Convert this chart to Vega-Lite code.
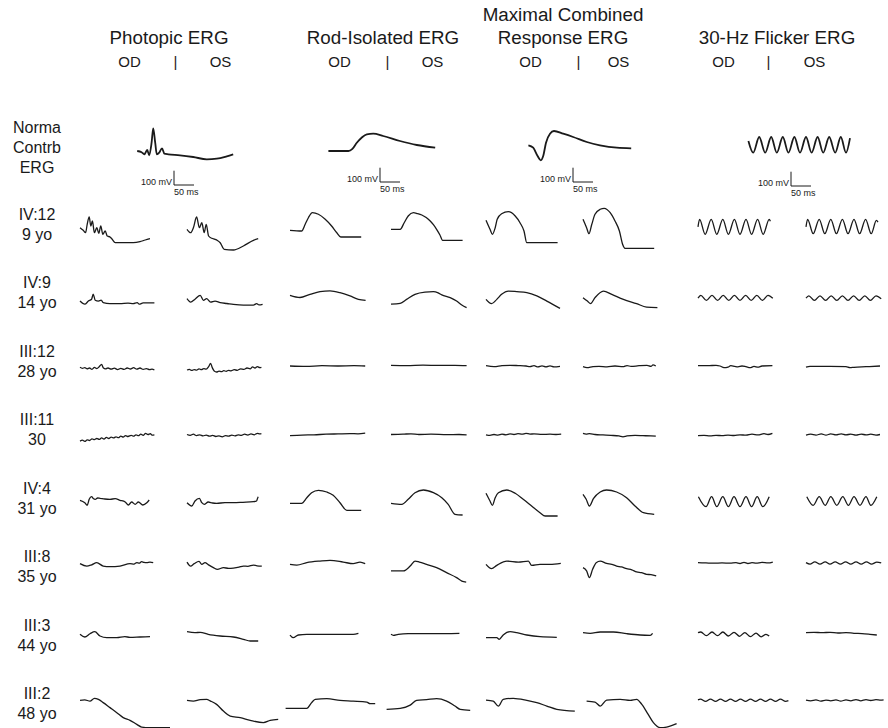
{
"$schema":"https://vega.github.io/schema/vega-lite/v6.json",
"padding":{"left":0,"top":6,"right":0,"bottom":0},
"config":{"view":{"stroke":null},"font":"Liberation Sans",
"title":{"font":"Liberation Sans","fontSize":18.8,"fontWeight":"normal","lineHeight":23,"offset":6,"color":"#1a1a1a","anchor":"middle","frame":"group"},
"axis":{"ticks":false,"tickSize":0,"domain":false,"grid":false,"labelFontSize":15,"labelFont":"Liberation Sans","labelColor":"#1a1a1a","labelPadding":0,"labelBaseline":"alphabetic","labelOverlap":false,"labelBound":false,"labelFlush":false,"labelAngle":0,"title":null,"offset":59},
"text":{"font":"Liberation Sans","color":"#1a1a1a"},"line":{"color":"#1a1a1a"}},
"datasets":{
"labels":[{"s":"IV:12","label":"IV:12\n9 yo"},{"s":"IV:9","label":"IV:9\n14 yo"},{"s":"III:12","label":"III:12\n28 yo"},{"s":"III:11","label":"III:11\n30"},{"s":"IV:4","label":"IV:4\n31 yo"},{"s":"III:8","label":"III:8\n35 yo"},{"s":"III:3","label":"III:3\n44 yo"},{"s":"III:2","label":"III:2\n48 yo"}],
"bar":[{"g":"P","k":0,"t":235,"v":-68},{"g":"P","k":1,"t":235,"v":-168},{"g":"P","k":2,"t":285,"v":-168},
{"g":"R","k":0,"t":225,"v":-47},{"g":"R","k":1,"t":225,"v":-147},{"g":"R","k":2,"t":275,"v":-147},
{"g":"M","k":0,"t":217.5,"v":-47},{"g":"M","k":1,"t":217.5,"v":-147},{"g":"M","k":2,"t":267.5,"v":-147},
{"g":"F","k":0,"t":232.5,"v":-75},{"g":"F","k":1,"t":232.5,"v":-175},{"g":"F","k":2,"t":282.5,"v":-175}],
"normal":[
{"g":"P","t":143,"v":70},{"g":"P","t":154,"v":61},{"g":"P","t":161,"v":47},{"g":"P","t":168,"v":77},{"g":"P","t":173,"v":40},{"g":"P","t":179,"v":128},{"g":"P","t":183,"v":229},{"g":"P","t":188,"v":128},{"g":"P","t":192,"v":47},{"g":"P","t":198,"v":58},{"g":"P","t":205,"v":89},{"g":"P","t":211,"v":51},{"g":"P","t":221,"v":47},{"g":"P","t":250,"v":40},{"g":"P","t":283,"v":28},{"g":"P","t":317,"v":12},{"g":"P","t":342,"v":16},{"g":"P","t":367,"v":33},{"g":"P","t":383,"v":47},
{"g":"R","t":96,"v":70},{"g":"R","t":146,"v":70},{"g":"R","t":156,"v":85},{"g":"R","t":167,"v":128},{"g":"R","t":179,"v":163},{"g":"R","t":192,"v":187},{"g":"R","t":208,"v":191},{"g":"R","t":233,"v":175},{"g":"R","t":275,"v":140},{"g":"R","t":317,"v":112},{"g":"R","t":363,"v":93},
{"g":"M","t":106,"v":110},{"g":"M","t":118,"v":93},{"g":"M","t":129,"v":35},{"g":"M","t":137,"v":5},{"g":"M","t":143,"v":35},{"g":"M","t":150,"v":128},{"g":"M","t":160,"v":191},{"g":"M","t":170,"v":210},{"g":"M","t":193,"v":191},{"g":"M","t":218,"v":168},{"g":"M","t":252,"v":133},{"g":"M","t":285,"v":110},{"g":"M","t":327,"v":93},{"g":"M","t":363,"v":89},
{"g":"F","t":126,"v":140},{"g":"F","t":138,"v":58},{"g":"F","t":153,"v":168},{"g":"F","t":168,"v":58},{"g":"F","t":183,"v":168},{"g":"F","t":197,"v":58},{"g":"F","t":212,"v":168},{"g":"F","t":226,"v":58},{"g":"F","t":241,"v":168},{"g":"F","t":255,"v":58},{"g":"F","t":270,"v":168},{"g":"F","t":284,"v":58},{"g":"F","t":299,"v":168},{"g":"F","t":313,"v":58},{"g":"F","t":328,"v":168},{"g":"F","t":343,"v":58},{"g":"F","t":357,"v":168},{"g":"F","t":370,"v":58},{"g":"F","t":380,"v":160}],
"P":[
{"s":"IV:12","e":"OD","t":0,"v":9},{"s":"IV:12","e":"OD","t":8,"v":-9},{"s":"IV:12","e":"OD","t":14,"v":-26},{"s":"IV:12","e":"OD","t":18,"v":33},{"s":"IV:12","e":"OD","t":23,"v":84},{"s":"IV:12","e":"OD","t":27,"v":21},{"s":"IV:12","e":"OD","t":31,"v":56},{"s":"IV:12","e":"OD","t":36,"v":-26},{"s":"IV:12","e":"OD","t":42,"v":9},{"s":"IV:12","e":"OD","t":47,"v":-30},{"s":"IV:12","e":"OD","t":52,"v":21},{"s":"IV:12","e":"OD","t":57,"v":-37},{"s":"IV:12","e":"OD","t":63,"v":-14},{"s":"IV:12","e":"OD","t":68,"v":-49},{"s":"IV:12","e":"OD","t":75,"v":-56},{"s":"IV:12","e":"OD","t":80,"v":-70},{"s":"IV:12","e":"OD","t":88,"v":-96},{"s":"IV:12","e":"OD","t":100,"v":-96},{"s":"IV:12","e":"OD","t":133,"v":-96},{"s":"IV:12","e":"OD","t":150,"v":-89},{"s":"IV:12","e":"OD","t":163,"v":-77},{"s":"IV:12","e":"OD","t":175,"v":-68},
{"s":"IV:12","e":"OS","t":0,"v":-2},{"s":"IV:12","e":"OS","t":9,"v":-26},{"s":"IV:12","e":"OS","t":16,"v":9},{"s":"IV:12","e":"OS","t":24,"v":84},{"s":"IV:12","e":"OS","t":31,"v":9},{"s":"IV:12","e":"OS","t":37,"v":44},{"s":"IV:12","e":"OS","t":43,"v":-26},{"s":"IV:12","e":"OS","t":48,"v":33},{"s":"IV:12","e":"OS","t":54,"v":-49},{"s":"IV:12","e":"OS","t":62,"v":-65},{"s":"IV:12","e":"OS","t":70,"v":-72},{"s":"IV:12","e":"OS","t":76,"v":-80},{"s":"IV:12","e":"OS","t":83,"v":-96},{"s":"IV:12","e":"OS","t":93,"v":-142},{"s":"IV:12","e":"OS","t":116,"v":-147},{"s":"IV:12","e":"OS","t":141,"v":-119},{"s":"IV:12","e":"OS","t":166,"v":-79},{"s":"IV:12","e":"OS","t":178,"v":-68},
{"s":"IV:9","e":"OD","t":0,"v":-25},{"s":"IV:9","e":"OD","t":12,"v":-47},{"s":"IV:9","e":"OD","t":21,"v":-25},{"s":"IV:9","e":"OD","t":29,"v":-12},{"s":"IV:9","e":"OD","t":33,"v":23},{"s":"IV:9","e":"OD","t":38,"v":-19},{"s":"IV:9","e":"OD","t":46,"v":-25},{"s":"IV:9","e":"OD","t":53,"v":-19},{"s":"IV:9","e":"OD","t":58,"v":-36},{"s":"IV:9","e":"OD","t":75,"v":-43},{"s":"IV:9","e":"OD","t":100,"v":-43},{"s":"IV:9","e":"OD","t":120,"v":-40},{"s":"IV:9","e":"OD","t":133,"v":-43},{"s":"IV:9","e":"OD","t":143,"v":-36},{"s":"IV:9","e":"OD","t":148,"v":-47},{"s":"IV:9","e":"OD","t":158,"v":-38},{"s":"IV:9","e":"OD","t":186,"v":-38},
{"s":"IV:9","e":"OS","t":0,"v":-8},{"s":"IV:9","e":"OS","t":9,"v":-32},{"s":"IV:9","e":"OS","t":20,"v":-12},{"s":"IV:9","e":"OS","t":33,"v":15},{"s":"IV:9","e":"OS","t":41,"v":-20},{"s":"IV:9","e":"OS","t":49,"v":-8},{"s":"IV:9","e":"OS","t":59,"v":-32},{"s":"IV:9","e":"OS","t":70,"v":-25},{"s":"IV:9","e":"OS","t":83,"v":-36},{"s":"IV:9","e":"OS","t":100,"v":-42},{"s":"IV:9","e":"OS","t":116,"v":-48},{"s":"IV:9","e":"OS","t":141,"v":-53},{"s":"IV:9","e":"OS","t":166,"v":-53},{"s":"IV:9","e":"OS","t":174,"v":-43},{"s":"IV:9","e":"OS","t":180,"v":-52},{"s":"IV:9","e":"OS","t":189,"v":-48},
{"s":"III:12","e":"OD","t":0,"v":-9},{"s":"III:12","e":"OD","t":6,"v":-16},{"s":"III:12","e":"OD","t":12,"v":-12},{"s":"III:12","e":"OD","t":18,"v":-20},{"s":"III:12","e":"OD","t":24,"v":-14},{"s":"III:12","e":"OD","t":30,"v":-23},{"s":"III:12","e":"OD","t":36,"v":-10},{"s":"III:12","e":"OD","t":42,"v":-18},{"s":"III:12","e":"OD","t":48,"v":-5},{"s":"III:12","e":"OD","t":54,"v":12},{"s":"III:12","e":"OD","t":58,"v":-12},{"s":"III:12","e":"OD","t":64,"v":-20},{"s":"III:12","e":"OD","t":70,"v":-14},{"s":"III:12","e":"OD","t":78,"v":-22},{"s":"III:12","e":"OD","t":86,"v":-15},{"s":"III:12","e":"OD","t":94,"v":-25},{"s":"III:12","e":"OD","t":102,"v":-17},{"s":"III:12","e":"OD","t":110,"v":-24},{"s":"III:12","e":"OD","t":118,"v":-14},{"s":"III:12","e":"OD","t":126,"v":-21},{"s":"III:12","e":"OD","t":134,"v":-12},{"s":"III:12","e":"OD","t":142,"v":-22},{"s":"III:12","e":"OD","t":150,"v":-14},{"s":"III:12","e":"OD","t":158,"v":-24},{"s":"III:12","e":"OD","t":166,"v":-18},{"s":"III:12","e":"OD","t":174,"v":-26},{"s":"III:12","e":"OD","t":180,"v":-22},{"s":"III:12","e":"OD","t":186,"v":-28},
{"s":"III:12","e":"OS","t":0,"v":-28},{"s":"III:12","e":"OS","t":6,"v":-24},{"s":"III:12","e":"OS","t":12,"v":-31},{"s":"III:12","e":"OS","t":18,"v":-25},{"s":"III:12","e":"OS","t":24,"v":-29},{"s":"III:12","e":"OS","t":30,"v":-20},{"s":"III:12","e":"OS","t":36,"v":-26},{"s":"III:12","e":"OS","t":42,"v":-18},{"s":"III:12","e":"OS","t":48,"v":-22},{"s":"III:12","e":"OS","t":54,"v":-5},{"s":"III:12","e":"OS","t":59,"v":19},{"s":"III:12","e":"OS","t":63,"v":-10},{"s":"III:12","e":"OS","t":68,"v":-35},{"s":"III:12","e":"OS","t":74,"v":-42},{"s":"III:12","e":"OS","t":80,"v":-36},{"s":"III:12","e":"OS","t":86,"v":-40},{"s":"III:12","e":"OS","t":92,"v":-33},{"s":"III:12","e":"OS","t":98,"v":-37},{"s":"III:12","e":"OS","t":104,"v":-30},{"s":"III:12","e":"OS","t":110,"v":-34},{"s":"III:12","e":"OS","t":118,"v":-26},{"s":"III:12","e":"OS","t":126,"v":-30},{"s":"III:12","e":"OS","t":134,"v":-20},{"s":"III:12","e":"OS","t":142,"v":-24},{"s":"III:12","e":"OS","t":150,"v":-14},{"s":"III:12","e":"OS","t":158,"v":-20},{"s":"III:12","e":"OS","t":164,"v":-6},{"s":"III:12","e":"OS","t":170,"v":-14},{"s":"III:12","e":"OS","t":176,"v":-4},{"s":"III:12","e":"OS","t":182,"v":-12},{"s":"III:12","e":"OS","t":186,"v":-9},
{"s":"III:11","e":"OD","t":0,"v":-46},{"s":"III:11","e":"OD","t":6,"v":-40},{"s":"III:11","e":"OD","t":12,"v":-48},{"s":"III:11","e":"OD","t":18,"v":-38},{"s":"III:11","e":"OD","t":24,"v":-42},{"s":"III:11","e":"OD","t":30,"v":-30},{"s":"III:11","e":"OD","t":36,"v":-36},{"s":"III:11","e":"OD","t":42,"v":-28},{"s":"III:11","e":"OD","t":48,"v":-34},{"s":"III:11","e":"OD","t":54,"v":-24},{"s":"III:11","e":"OD","t":60,"v":-32},{"s":"III:11","e":"OD","t":66,"v":-20},{"s":"III:11","e":"OD","t":72,"v":-28},{"s":"III:11","e":"OD","t":78,"v":-18},{"s":"III:11","e":"OD","t":84,"v":-24},{"s":"III:11","e":"OD","t":90,"v":-16},{"s":"III:11","e":"OD","t":96,"v":-22},{"s":"III:11","e":"OD","t":102,"v":-12},{"s":"III:11","e":"OD","t":108,"v":-18},{"s":"III:11","e":"OD","t":114,"v":-8},{"s":"III:11","e":"OD","t":120,"v":-14},{"s":"III:11","e":"OD","t":128,"v":-6},{"s":"III:11","e":"OD","t":134,"v":-12},{"s":"III:11","e":"OD","t":140,"v":-2},{"s":"III:11","e":"OD","t":146,"v":-8},{"s":"III:11","e":"OD","t":152,"v":2},{"s":"III:11","e":"OD","t":158,"v":-6},{"s":"III:11","e":"OD","t":164,"v":8},{"s":"III:11","e":"OD","t":170,"v":0},{"s":"III:11","e":"OD","t":176,"v":6},{"s":"III:11","e":"OD","t":180,"v":-4},{"s":"III:11","e":"OD","t":186,"v":-2},
{"s":"III:11","e":"OS","t":0,"v":0},{"s":"III:11","e":"OS","t":8,"v":-6},{"s":"III:11","e":"OS","t":16,"v":2},{"s":"III:11","e":"OS","t":24,"v":-8},{"s":"III:11","e":"OS","t":32,"v":-2},{"s":"III:11","e":"OS","t":40,"v":-10},{"s":"III:11","e":"OS","t":48,"v":-4},{"s":"III:11","e":"OS","t":56,"v":-12},{"s":"III:11","e":"OS","t":64,"v":-6},{"s":"III:11","e":"OS","t":72,"v":-14},{"s":"III:11","e":"OS","t":80,"v":-10},{"s":"III:11","e":"OS","t":88,"v":-16},{"s":"III:11","e":"OS","t":96,"v":-8},{"s":"III:11","e":"OS","t":104,"v":-12},{"s":"III:11","e":"OS","t":112,"v":-4},{"s":"III:11","e":"OS","t":120,"v":-10},{"s":"III:11","e":"OS","t":128,"v":-2},{"s":"III:11","e":"OS","t":136,"v":-6},{"s":"III:11","e":"OS","t":144,"v":2},{"s":"III:11","e":"OS","t":152,"v":-4},{"s":"III:11","e":"OS","t":160,"v":4},{"s":"III:11","e":"OS","t":168,"v":-2},{"s":"III:11","e":"OS","t":176,"v":8},{"s":"III:11","e":"OS","t":182,"v":4},{"s":"III:11","e":"OS","t":186,"v":6},
{"s":"IV:4","e":"OD","t":0,"v":19},{"s":"IV:4","e":"OD","t":12,"v":2},{"s":"IV:4","e":"OD","t":18,"v":-16},{"s":"IV:4","e":"OD","t":23,"v":26},{"s":"IV:4","e":"OD","t":29,"v":44},{"s":"IV:4","e":"OD","t":34,"v":30},{"s":"IV:4","e":"OD","t":38,"v":26},{"s":"IV:4","e":"OD","t":44,"v":35},{"s":"IV:4","e":"OD","t":50,"v":33},{"s":"IV:4","e":"OD","t":62,"v":28},{"s":"IV:4","e":"OD","t":75,"v":26},{"s":"IV:4","e":"OD","t":88,"v":30},{"s":"IV:4","e":"OD","t":100,"v":19},{"s":"IV:4","e":"OD","t":113,"v":7},{"s":"IV:4","e":"OD","t":121,"v":-14},{"s":"IV:4","e":"OD","t":129,"v":7},{"s":"IV:4","e":"OD","t":138,"v":-9},{"s":"IV:4","e":"OD","t":146,"v":7},{"s":"IV:4","e":"OD","t":157,"v":-14},{"s":"IV:4","e":"OD","t":167,"v":2},{"s":"IV:4","e":"OD","t":173,"v":21},
{"s":"IV:4","e":"OS","t":0,"v":2},{"s":"IV:4","e":"OS","t":12,"v":-21},{"s":"IV:4","e":"OS","t":20,"v":14},{"s":"IV:4","e":"OS","t":31,"v":33},{"s":"IV:4","e":"OS","t":37,"v":2},{"s":"IV:4","e":"OS","t":43,"v":-9},{"s":"IV:4","e":"OS","t":53,"v":7},{"s":"IV:4","e":"OS","t":64,"v":0},{"s":"IV:4","e":"OS","t":74,"v":-2},{"s":"IV:4","e":"OS","t":95,"v":2},{"s":"IV:4","e":"OS","t":116,"v":2},{"s":"IV:4","e":"OS","t":140,"v":5},{"s":"IV:4","e":"OS","t":166,"v":9},{"s":"IV:4","e":"OS","t":174,"v":14},{"s":"IV:4","e":"OS","t":176,"v":30},{"s":"IV:4","e":"OS","t":178,"v":44},
{"s":"III:8","e":"OD","t":0,"v":55},{"s":"III:8","e":"OD","t":17,"v":38},{"s":"III:8","e":"OD","t":29,"v":47},{"s":"III:8","e":"OD","t":42,"v":62},{"s":"III:8","e":"OD","t":58,"v":38},{"s":"III:8","e":"OD","t":75,"v":34},{"s":"III:8","e":"OD","t":100,"v":38},{"s":"III:8","e":"OD","t":125,"v":55},{"s":"III:8","e":"OD","t":135,"v":52},{"s":"III:8","e":"OD","t":142,"v":62},{"s":"III:8","e":"OD","t":148,"v":58},{"s":"III:8","e":"OD","t":154,"v":69},{"s":"III:8","e":"OD","t":160,"v":64},{"s":"III:8","e":"OD","t":167,"v":62},{"s":"III:8","e":"OD","t":175,"v":66},{"s":"III:8","e":"OD","t":183,"v":62},
{"s":"III:8","e":"OS","t":0,"v":66},{"s":"III:8","e":"OS","t":9,"v":38},{"s":"III:8","e":"OS","t":18,"v":55},{"s":"III:8","e":"OS","t":30,"v":71},{"s":"III:8","e":"OS","t":37,"v":50},{"s":"III:8","e":"OS","t":45,"v":62},{"s":"III:8","e":"OS","t":53,"v":48},{"s":"III:8","e":"OS","t":66,"v":27},{"s":"III:8","e":"OS","t":76,"v":15},{"s":"III:8","e":"OS","t":91,"v":27},{"s":"III:8","e":"OS","t":104,"v":22},{"s":"III:8","e":"OS","t":116,"v":24},{"s":"III:8","e":"OS","t":130,"v":30},{"s":"III:8","e":"OS","t":141,"v":38},{"s":"III:8","e":"OS","t":152,"v":36},{"s":"III:8","e":"OS","t":166,"v":45},{"s":"III:8","e":"OS","t":175,"v":40},{"s":"III:8","e":"OS","t":187,"v":38},
{"s":"III:3","e":"OD","t":0,"v":40},{"s":"III:3","e":"OD","t":12,"v":21},{"s":"III:3","e":"OD","t":25,"v":44},{"s":"III:3","e":"OD","t":37,"v":58},{"s":"III:3","e":"OD","t":50,"v":28},{"s":"III:3","e":"OD","t":67,"v":16},{"s":"III:3","e":"OD","t":92,"v":16},{"s":"III:3","e":"OD","t":112,"v":23},{"s":"III:3","e":"OD","t":125,"v":19},{"s":"III:3","e":"OD","t":150,"v":21},{"s":"III:3","e":"OD","t":175,"v":23},
{"s":"III:3","e":"OS","t":0,"v":58},{"s":"III:3","e":"OS","t":20,"v":51},{"s":"III:3","e":"OS","t":33,"v":54},{"s":"III:3","e":"OS","t":53,"v":40},{"s":"III:3","e":"OS","t":83,"v":28},{"s":"III:3","e":"OS","t":116,"v":21},{"s":"III:3","e":"OS","t":141,"v":5},{"s":"III:3","e":"OS","t":158,"v":-7},{"s":"III:3","e":"OS","t":178,"v":-7},
{"s":"III:2","e":"OD","t":0,"v":57},{"s":"III:2","e":"OD","t":12,"v":60},{"s":"III:2","e":"OD","t":25,"v":52},{"s":"III:2","e":"OD","t":36,"v":71},{"s":"III:2","e":"OD","t":46,"v":64},{"s":"III:2","e":"OD","t":58,"v":41},{"s":"III:2","e":"OD","t":75,"v":6},{"s":"III:2","e":"OD","t":92,"v":-29},{"s":"III:2","e":"OD","t":108,"v":-64},{"s":"III:2","e":"OD","t":125,"v":-83},{"s":"III:2","e":"OD","t":142,"v":-111},{"s":"III:2","e":"OD","t":154,"v":-130},{"s":"III:2","e":"OD","t":175,"v":-134},{"s":"III:2","e":"OD","t":225,"v":-134},
{"s":"III:2","e":"OS","t":0,"v":57},{"s":"III:2","e":"OS","t":16,"v":52},{"s":"III:2","e":"OS","t":33,"v":62},{"s":"III:2","e":"OS","t":49,"v":64},{"s":"III:2","e":"OS","t":59,"v":52},{"s":"III:2","e":"OS","t":74,"v":29},{"s":"III:2","e":"OS","t":91,"v":-18},{"s":"III:2","e":"OS","t":108,"v":-53},{"s":"III:2","e":"OS","t":133,"v":-64},{"s":"III:2","e":"OS","t":158,"v":-83},{"s":"III:2","e":"OS","t":191,"v":-99},{"s":"III:2","e":"OS","t":208,"v":-83},{"s":"III:2","e":"OS","t":228,"v":-76}],
"R":[
{"s":"IV:12","e":"OD","t":0,"v":-9},{"s":"IV:12","e":"OD","t":29,"v":-14},{"s":"IV:12","e":"OD","t":38,"v":33},{"s":"IV:12","e":"OD","t":46,"v":79},{"s":"IV:12","e":"OD","t":56,"v":114},{"s":"IV:12","e":"OD","t":71,"v":103},{"s":"IV:12","e":"OD","t":88,"v":68},{"s":"IV:12","e":"OD","t":104,"v":21},{"s":"IV:12","e":"OD","t":117,"v":-26},{"s":"IV:12","e":"OD","t":127,"v":-56},{"s":"IV:12","e":"OD","t":178,"v":-56},
{"s":"IV:12","e":"OS","t":0,"v":-2},{"s":"IV:12","e":"OS","t":23,"v":-2},{"s":"IV:12","e":"OS","t":33,"v":44},{"s":"IV:12","e":"OS","t":43,"v":91},{"s":"IV:12","e":"OS","t":56,"v":114},{"s":"IV:12","e":"OS","t":66,"v":108},{"s":"IV:12","e":"OS","t":77,"v":98},{"s":"IV:12","e":"OS","t":88,"v":80},{"s":"IV:12","e":"OS","t":98,"v":56},{"s":"IV:12","e":"OS","t":106,"v":30},{"s":"IV:12","e":"OS","t":114,"v":-2},{"s":"IV:12","e":"OS","t":122,"v":-40},{"s":"IV:12","e":"OS","t":129,"v":-79},{"s":"IV:12","e":"OS","t":179,"v":-79},
{"s":"IV:9","e":"OD","t":0,"v":15},{"s":"IV:9","e":"OD","t":25,"v":0},{"s":"IV:9","e":"OD","t":50,"v":22},{"s":"IV:9","e":"OD","t":75,"v":41},{"s":"IV:9","e":"OD","t":100,"v":46},{"s":"IV:9","e":"OD","t":125,"v":34},{"s":"IV:9","e":"OD","t":150,"v":11},{"s":"IV:9","e":"OD","t":171,"v":-13},{"s":"IV:9","e":"OD","t":189,"v":-20},
{"s":"IV:9","e":"OS","t":0,"v":-47},{"s":"IV:9","e":"OS","t":23,"v":-41},{"s":"IV:9","e":"OS","t":39,"v":-13},{"s":"IV:9","e":"OS","t":60,"v":22},{"s":"IV:9","e":"OS","t":85,"v":38},{"s":"IV:9","e":"OS","t":106,"v":41},{"s":"IV:9","e":"OS","t":118,"v":32},{"s":"IV:9","e":"OS","t":127,"v":18},{"s":"IV:9","e":"OS","t":148,"v":-1},{"s":"IV:9","e":"OS","t":164,"v":-25},{"s":"IV:9","e":"OS","t":177,"v":-53},{"s":"IV:9","e":"OS","t":189,"v":-71},
{"s":"III:12","e":"OD","t":0,"v":0},{"s":"III:12","e":"OD","t":40,"v":-3},{"s":"III:12","e":"OD","t":80,"v":2},{"s":"III:12","e":"OD","t":120,"v":0},{"s":"III:12","e":"OD","t":160,"v":2},{"s":"III:12","e":"OD","t":188,"v":0},
{"s":"III:12","e":"OS","t":0,"v":5},{"s":"III:12","e":"OS","t":40,"v":3},{"s":"III:12","e":"OS","t":80,"v":6},{"s":"III:12","e":"OS","t":120,"v":4},{"s":"III:12","e":"OS","t":160,"v":5},{"s":"III:12","e":"OS","t":189,"v":3},
{"s":"III:11","e":"OD","t":0,"v":-8},{"s":"III:11","e":"OD","t":30,"v":-4},{"s":"III:11","e":"OD","t":60,"v":-2},{"s":"III:11","e":"OD","t":90,"v":2},{"s":"III:11","e":"OD","t":120,"v":4},{"s":"III:11","e":"OD","t":150,"v":6},{"s":"III:11","e":"OD","t":170,"v":5},{"s":"III:11","e":"OD","t":188,"v":9},
{"s":"III:11","e":"OS","t":0,"v":0},{"s":"III:11","e":"OS","t":30,"v":2},{"s":"III:11","e":"OS","t":50,"v":5},{"s":"III:11","e":"OS","t":70,"v":0},{"s":"III:11","e":"OS","t":100,"v":2},{"s":"III:11","e":"OS","t":140,"v":-1},{"s":"III:11","e":"OS","t":170,"v":0},{"s":"III:11","e":"OS","t":189,"v":-2},
{"s":"IV:4","e":"OD","t":0,"v":-2},{"s":"IV:4","e":"OD","t":29,"v":-2},{"s":"IV:4","e":"OD","t":42,"v":37},{"s":"IV:4","e":"OD","t":54,"v":72},{"s":"IV:4","e":"OD","t":71,"v":89},{"s":"IV:4","e":"OD","t":92,"v":77},{"s":"IV:4","e":"OD","t":108,"v":54},{"s":"IV:4","e":"OD","t":125,"v":2},{"s":"IV:4","e":"OD","t":142,"v":-51},{"s":"IV:4","e":"OD","t":178,"v":-51},
{"s":"IV:4","e":"OS","t":0,"v":-2},{"s":"IV:4","e":"OS","t":27,"v":-9},{"s":"IV:4","e":"OS","t":43,"v":26},{"s":"IV:4","e":"OS","t":60,"v":72},{"s":"IV:4","e":"OS","t":81,"v":91},{"s":"IV:4","e":"OS","t":106,"v":72},{"s":"IV:4","e":"OS","t":127,"v":37},{"s":"IV:4","e":"OS","t":143,"v":-9},{"s":"IV:4","e":"OS","t":160,"v":-79},{"s":"IV:4","e":"OS","t":179,"v":-84},
{"s":"III:8","e":"OD","t":0,"v":50},{"s":"III:8","e":"OD","t":17,"v":45},{"s":"III:8","e":"OD","t":42,"v":62},{"s":"III:8","e":"OD","t":75,"v":73},{"s":"III:8","e":"OD","t":100,"v":78},{"s":"III:8","e":"OD","t":133,"v":66},{"s":"III:8","e":"OD","t":158,"v":55},{"s":"III:8","e":"OD","t":175,"v":66},{"s":"III:8","e":"OD","t":188,"v":55},
{"s":"III:8","e":"OS","t":0,"v":4},{"s":"III:8","e":"OS","t":31,"v":4},{"s":"III:8","e":"OS","t":48,"v":38},{"s":"III:8","e":"OS","t":60,"v":73},{"s":"III:8","e":"OS","t":71,"v":66},{"s":"III:8","e":"OS","t":89,"v":50},{"s":"III:8","e":"OS","t":114,"v":27},{"s":"III:8","e":"OS","t":139,"v":-8},{"s":"III:8","e":"OS","t":164,"v":-43},{"s":"III:8","e":"OS","t":177,"v":-67},{"s":"III:8","e":"OS","t":188,"v":-74},
{"s":"III:3","e":"OD","t":0,"v":34},{"s":"III:3","e":"OD","t":8,"v":16},{"s":"III:3","e":"OD","t":21,"v":35},{"s":"III:3","e":"OD","t":42,"v":40},{"s":"III:3","e":"OD","t":108,"v":40},{"s":"III:3","e":"OD","t":158,"v":40},{"s":"III:3","e":"OD","t":171,"v":47},
{"s":"III:3","e":"OS","t":0,"v":40},{"s":"III:3","e":"OS","t":6,"v":33},{"s":"III:3","e":"OS","t":18,"v":40},{"s":"III:3","e":"OS","t":43,"v":44},{"s":"III:3","e":"OS","t":106,"v":44},{"s":"III:3","e":"OS","t":171,"v":47},
{"s":"III:2","e":"OD","t":-11,"v":1},{"s":"III:2","e":"OD","t":42,"v":1},{"s":"III:2","e":"OD","t":54,"v":41},{"s":"III:2","e":"OD","t":63,"v":64},{"s":"III:2","e":"OD","t":92,"v":69},{"s":"III:2","e":"OD","t":125,"v":57},{"s":"III:2","e":"OD","t":158,"v":52},{"s":"III:2","e":"OD","t":192,"v":45},{"s":"III:2","e":"OD","t":200,"v":34},{"s":"III:2","e":"OD","t":213,"v":34},
{"s":"III:2","e":"OS","t":-11,"v":-6},{"s":"III:2","e":"OS","t":23,"v":1},{"s":"III:2","e":"OS","t":48,"v":24},{"s":"III:2","e":"OS","t":64,"v":57},{"s":"III:2","e":"OS","t":89,"v":62},{"s":"III:2","e":"OS","t":114,"v":69},{"s":"III:2","e":"OS","t":139,"v":52},{"s":"III:2","e":"OS","t":160,"v":17},{"s":"III:2","e":"OS","t":173,"v":-6},{"s":"III:2","e":"OS","t":198,"v":-13}],
"M":[
{"s":"IV:12","e":"OD","t":0,"v":61},{"s":"IV:12","e":"OD","t":10,"v":-2},{"s":"IV:12","e":"OD","t":16,"v":-37},{"s":"IV:12","e":"OD","t":23,"v":9},{"s":"IV:12","e":"OD","t":28,"v":68},{"s":"IV:12","e":"OD","t":39,"v":107},{"s":"IV:12","e":"OD","t":56,"v":121},{"s":"IV:12","e":"OD","t":73,"v":91},{"s":"IV:12","e":"OD","t":85,"v":44},{"s":"IV:12","e":"OD","t":95,"v":-14},{"s":"IV:12","e":"OD","t":102,"v":-96},{"s":"IV:12","e":"OD","t":106,"v":-96},{"s":"IV:12","e":"OD","t":179,"v":-96},
{"s":"IV:12","e":"OS","t":0,"v":68},{"s":"IV:12","e":"OS","t":9,"v":9},{"s":"IV:12","e":"OS","t":15,"v":-33},{"s":"IV:12","e":"OS","t":22,"v":33},{"s":"IV:12","e":"OS","t":30,"v":103},{"s":"IV:12","e":"OS","t":43,"v":138},{"s":"IV:12","e":"OS","t":53,"v":145},{"s":"IV:12","e":"OS","t":68,"v":114},{"s":"IV:12","e":"OS","t":80,"v":56},{"s":"IV:12","e":"OS","t":91,"v":-14},{"s":"IV:12","e":"OS","t":99,"v":-107},{"s":"IV:12","e":"OS","t":105,"v":-135},{"s":"IV:12","e":"OS","t":178,"v":-135},
{"s":"IV:9","e":"OD","t":0,"v":-13},{"s":"IV:9","e":"OD","t":14,"v":-43},{"s":"IV:9","e":"OD","t":27,"v":-13},{"s":"IV:9","e":"OD","t":39,"v":22},{"s":"IV:9","e":"OD","t":56,"v":45},{"s":"IV:9","e":"OD","t":77,"v":41},{"s":"IV:9","e":"OD","t":102,"v":34},{"s":"IV:9","e":"OD","t":127,"v":11},{"s":"IV:9","e":"OD","t":152,"v":-25},{"s":"IV:9","e":"OD","t":185,"v":-76},
{"s":"IV:9","e":"OS","t":0,"v":-1},{"s":"IV:9","e":"OS","t":11,"v":-25},{"s":"IV:9","e":"OS","t":19,"v":-43},{"s":"IV:9","e":"OS","t":30,"v":-1},{"s":"IV:9","e":"OS","t":51,"v":45},{"s":"IV:9","e":"OS","t":72,"v":22},{"s":"IV:9","e":"OS","t":101,"v":-13},{"s":"IV:9","e":"OS","t":134,"v":-43},{"s":"IV:9","e":"OS","t":159,"v":-67},{"s":"IV:9","e":"OS","t":186,"v":-71},
{"s":"III:12","e":"OD","t":0,"v":2},{"s":"III:12","e":"OD","t":20,"v":-5},{"s":"III:12","e":"OD","t":40,"v":2},{"s":"III:12","e":"OD","t":60,"v":5},{"s":"III:12","e":"OD","t":80,"v":3},{"s":"III:12","e":"OD","t":100,"v":0},{"s":"III:12","e":"OD","t":110,"v":-5},{"s":"III:12","e":"OD","t":120,"v":2},{"s":"III:12","e":"OD","t":130,"v":-6},{"s":"III:12","e":"OD","t":140,"v":1},{"s":"III:12","e":"OD","t":150,"v":-6},{"s":"III:12","e":"OD","t":160,"v":1},{"s":"III:12","e":"OD","t":170,"v":-6},{"s":"III:12","e":"OD","t":185,"v":-2},
{"s":"III:12","e":"OS","t":0,"v":-5},{"s":"III:12","e":"OS","t":10,"v":-12},{"s":"III:12","e":"OS","t":25,"v":-4},{"s":"III:12","e":"OS","t":40,"v":-2},{"s":"III:12","e":"OS","t":60,"v":-6},{"s":"III:12","e":"OS","t":80,"v":0},{"s":"III:12","e":"OS","t":100,"v":-5},{"s":"III:12","e":"OS","t":110,"v":3},{"s":"III:12","e":"OS","t":120,"v":-3},{"s":"III:12","e":"OS","t":140,"v":2},{"s":"III:12","e":"OS","t":160,"v":5},{"s":"III:12","e":"OS","t":170,"v":-2},{"s":"III:12","e":"OS","t":175,"v":8},{"s":"III:12","e":"OS","t":182,"v":0},
{"s":"III:11","e":"OD","t":0,"v":-2},{"s":"III:11","e":"OD","t":10,"v":-6},{"s":"III:11","e":"OD","t":20,"v":0},{"s":"III:11","e":"OD","t":30,"v":-4},{"s":"III:11","e":"OD","t":40,"v":2},{"s":"III:11","e":"OD","t":50,"v":-2},{"s":"III:11","e":"OD","t":60,"v":4},{"s":"III:11","e":"OD","t":70,"v":0},{"s":"III:11","e":"OD","t":80,"v":6},{"s":"III:11","e":"OD","t":90,"v":2},{"s":"III:11","e":"OD","t":100,"v":8},{"s":"III:11","e":"OD","t":110,"v":3},{"s":"III:11","e":"OD","t":120,"v":4},{"s":"III:11","e":"OD","t":140,"v":1},{"s":"III:11","e":"OD","t":160,"v":2},{"s":"III:11","e":"OD","t":175,"v":0},{"s":"III:11","e":"OD","t":188,"v":2},
{"s":"III:11","e":"OS","t":0,"v":8},{"s":"III:11","e":"OS","t":8,"v":3},{"s":"III:11","e":"OS","t":16,"v":6},{"s":"III:11","e":"OS","t":30,"v":0},{"s":"III:11","e":"OS","t":50,"v":-3},{"s":"III:11","e":"OS","t":70,"v":-6},{"s":"III:11","e":"OS","t":90,"v":-10},{"s":"III:11","e":"OS","t":100,"v":-16},{"s":"III:11","e":"OS","t":110,"v":-10},{"s":"III:11","e":"OS","t":130,"v":-6},{"s":"III:11","e":"OS","t":150,"v":-8},{"s":"III:11","e":"OS","t":170,"v":-10},{"s":"III:11","e":"OS","t":182,"v":-12},
{"s":"IV:4","e":"OD","t":0,"v":68},{"s":"IV:4","e":"OD","t":10,"v":14},{"s":"IV:4","e":"OD","t":16,"v":-16},{"s":"IV:4","e":"OD","t":23,"v":37},{"s":"IV:4","e":"OD","t":31,"v":72},{"s":"IV:4","e":"OD","t":52,"v":91},{"s":"IV:4","e":"OD","t":73,"v":68},{"s":"IV:4","e":"OD","t":93,"v":26},{"s":"IV:4","e":"OD","t":114,"v":-21},{"s":"IV:4","e":"OD","t":135,"v":-68},{"s":"IV:4","e":"OD","t":148,"v":-91},{"s":"IV:4","e":"OD","t":179,"v":-91},
{"s":"IV:4","e":"OS","t":0,"v":61},{"s":"IV:4","e":"OS","t":8,"v":26},{"s":"IV:4","e":"OS","t":16,"v":-21},{"s":"IV:4","e":"OS","t":26,"v":30},{"s":"IV:4","e":"OS","t":43,"v":77},{"s":"IV:4","e":"OS","t":59,"v":91},{"s":"IV:4","e":"OS","t":84,"v":77},{"s":"IV:4","e":"OS","t":109,"v":37},{"s":"IV:4","e":"OS","t":130,"v":-21},{"s":"IV:4","e":"OS","t":151,"v":-68},{"s":"IV:4","e":"OS","t":178,"v":-79},
{"s":"III:8","e":"OD","t":0,"v":50},{"s":"III:8","e":"OD","t":14,"v":20},{"s":"III:8","e":"OD","t":27,"v":43},{"s":"III:8","e":"OD","t":52,"v":73},{"s":"III:8","e":"OD","t":81,"v":66},{"s":"III:8","e":"OD","t":106,"v":73},{"s":"III:8","e":"OD","t":114,"v":43},{"s":"III:8","e":"OD","t":135,"v":50},{"s":"III:8","e":"OD","t":160,"v":50},{"s":"III:8","e":"OD","t":187,"v":57},
{"s":"III:8","e":"OS","t":0,"v":27},{"s":"III:8","e":"OS","t":9,"v":4},{"s":"III:8","e":"OS","t":16,"v":-43},{"s":"III:8","e":"OS","t":24,"v":15},{"s":"III:8","e":"OS","t":33,"v":62},{"s":"III:8","e":"OS","t":43,"v":73},{"s":"III:8","e":"OS","t":59,"v":57},{"s":"III:8","e":"OS","t":72,"v":50},{"s":"III:8","e":"OS","t":84,"v":38},{"s":"III:8","e":"OS","t":96,"v":32},{"s":"III:8","e":"OS","t":109,"v":20},{"s":"III:8","e":"OS","t":122,"v":12},{"s":"III:8","e":"OS","t":134,"v":-3},{"s":"III:8","e":"OS","t":146,"v":-8},{"s":"III:8","e":"OS","t":159,"v":-20},{"s":"III:8","e":"OS","t":170,"v":-22},{"s":"III:8","e":"OS","t":183,"v":-31},
{"s":"III:3","e":"OD","t":0,"v":16},{"s":"III:3","e":"OD","t":27,"v":16},{"s":"III:3","e":"OD","t":33,"v":5},{"s":"III:3","e":"OD","t":43,"v":35},{"s":"III:3","e":"OD","t":60,"v":58},{"s":"III:3","e":"OD","t":77,"v":51},{"s":"III:3","e":"OD","t":102,"v":35},{"s":"III:3","e":"OD","t":135,"v":23},{"s":"III:3","e":"OD","t":177,"v":19},
{"s":"III:3","e":"OS","t":0,"v":51},{"s":"III:3","e":"OS","t":18,"v":47},{"s":"III:3","e":"OS","t":43,"v":56},{"s":"III:3","e":"OS","t":76,"v":56},{"s":"III:3","e":"OS","t":109,"v":44},{"s":"III:3","e":"OS","t":143,"v":35},{"s":"III:3","e":"OS","t":168,"v":33},{"s":"III:3","e":"OS","t":174,"v":47},
{"s":"III:2","e":"OD","t":0,"v":59},{"s":"III:2","e":"OD","t":18,"v":52},{"s":"III:2","e":"OD","t":31,"v":17},{"s":"III:2","e":"OD","t":43,"v":64},{"s":"III:2","e":"OD","t":68,"v":71},{"s":"III:2","e":"OD","t":102,"v":57},{"s":"III:2","e":"OD","t":127,"v":41},{"s":"III:2","e":"OD","t":152,"v":17},{"s":"III:2","e":"OD","t":177,"v":-6},{"s":"III:2","e":"OD","t":222,"v":-18},
{"s":"III:2","e":"OS","t":9,"v":52},{"s":"III:2","e":"OS","t":30,"v":45},{"s":"III:2","e":"OS","t":43,"v":17},{"s":"III:2","e":"OS","t":59,"v":59},{"s":"III:2","e":"OS","t":93,"v":64},{"s":"III:2","e":"OS","t":118,"v":57},{"s":"III:2","e":"OS","t":134,"v":64},{"s":"III:2","e":"OS","t":147,"v":29},{"s":"III:2","e":"OS","t":163,"v":-41},{"s":"III:2","e":"OS","t":176,"v":-99},{"s":"III:2","e":"OS","t":193,"v":-134},{"s":"III:2","e":"OS","t":209,"v":-130},{"s":"III:2","e":"OS","t":234,"v":-106}],
"F":[
{"s":"IV:12","e":"OD","t":0,"v":15},{"s":"IV:12","e":"OD","t":4,"v":68},{"s":"IV:12","e":"OD","t":18,"v":-37},{"s":"IV:12","e":"OD","t":33,"v":68},{"s":"IV:12","e":"OD","t":47,"v":-37},{"s":"IV:12","e":"OD","t":62,"v":68},{"s":"IV:12","e":"OD","t":76,"v":-37},{"s":"IV:12","e":"OD","t":91,"v":68},{"s":"IV:12","e":"OD","t":105,"v":-37},{"s":"IV:12","e":"OD","t":120,"v":68},{"s":"IV:12","e":"OD","t":134,"v":-37},{"s":"IV:12","e":"OD","t":149,"v":68},{"s":"IV:12","e":"OD","t":163,"v":-37},{"s":"IV:12","e":"OD","t":178,"v":68},{"s":"IV:12","e":"OD","t":181,"v":55},
{"s":"IV:12","e":"OS","t":0,"v":15},{"s":"IV:12","e":"OS","t":4,"v":68},{"s":"IV:12","e":"OS","t":18,"v":-33},{"s":"IV:12","e":"OS","t":33,"v":68},{"s":"IV:12","e":"OS","t":47,"v":-33},{"s":"IV:12","e":"OS","t":62,"v":68},{"s":"IV:12","e":"OS","t":76,"v":-33},{"s":"IV:12","e":"OS","t":91,"v":68},{"s":"IV:12","e":"OS","t":105,"v":-33},{"s":"IV:12","e":"OS","t":120,"v":68},{"s":"IV:12","e":"OS","t":134,"v":-33},{"s":"IV:12","e":"OS","t":149,"v":68},{"s":"IV:12","e":"OS","t":163,"v":-33},{"s":"IV:12","e":"OS","t":176,"v":60},{"s":"IV:12","e":"OS","t":180,"v":48},
{"s":"IV:9","e":"OD","t":0,"v":-5},{"s":"IV:9","e":"OD","t":7,"v":15},{"s":"IV:9","e":"OD","t":21,"v":-20},{"s":"IV:9","e":"OD","t":35,"v":15},{"s":"IV:9","e":"OD","t":49,"v":-20},{"s":"IV:9","e":"OD","t":63,"v":15},{"s":"IV:9","e":"OD","t":77,"v":-20},{"s":"IV:9","e":"OD","t":91,"v":15},{"s":"IV:9","e":"OD","t":105,"v":-20},{"s":"IV:9","e":"OD","t":119,"v":15},{"s":"IV:9","e":"OD","t":133,"v":-20},{"s":"IV:9","e":"OD","t":147,"v":15},{"s":"IV:9","e":"OD","t":161,"v":-20},{"s":"IV:9","e":"OD","t":175,"v":15},{"s":"IV:9","e":"OD","t":187,"v":-5},
{"s":"IV:9","e":"OS","t":0,"v":-5},{"s":"IV:9","e":"OS","t":7,"v":12},{"s":"IV:9","e":"OS","t":21,"v":-20},{"s":"IV:9","e":"OS","t":35,"v":12},{"s":"IV:9","e":"OS","t":49,"v":-20},{"s":"IV:9","e":"OS","t":63,"v":12},{"s":"IV:9","e":"OS","t":77,"v":-20},{"s":"IV:9","e":"OS","t":91,"v":12},{"s":"IV:9","e":"OS","t":105,"v":-20},{"s":"IV:9","e":"OS","t":119,"v":12},{"s":"IV:9","e":"OS","t":133,"v":-20},{"s":"IV:9","e":"OS","t":147,"v":12},{"s":"IV:9","e":"OS","t":161,"v":-20},{"s":"IV:9","e":"OS","t":175,"v":12},{"s":"IV:9","e":"OS","t":188,"v":-8},
{"s":"III:12","e":"OD","t":0,"v":2},{"s":"III:12","e":"OD","t":25,"v":2},{"s":"III:12","e":"OD","t":45,"v":5},{"s":"III:12","e":"OD","t":55,"v":0},{"s":"III:12","e":"OD","t":65,"v":-12},{"s":"III:12","e":"OD","t":75,"v":-8},{"s":"III:12","e":"OD","t":82,"v":2},{"s":"III:12","e":"OD","t":92,"v":-3},{"s":"III:12","e":"OD","t":100,"v":-6},{"s":"III:12","e":"OD","t":110,"v":0},{"s":"III:12","e":"OD","t":120,"v":-5},{"s":"III:12","e":"OD","t":130,"v":-12},{"s":"III:12","e":"OD","t":140,"v":-3},{"s":"III:12","e":"OD","t":150,"v":-8},{"s":"III:12","e":"OD","t":160,"v":0},{"s":"III:12","e":"OD","t":186,"v":2},
{"s":"III:12","e":"OS","t":0,"v":-8},{"s":"III:12","e":"OS","t":10,"v":-2},{"s":"III:12","e":"OS","t":60,"v":-2},{"s":"III:12","e":"OS","t":100,"v":-5},{"s":"III:12","e":"OS","t":110,"v":-12},{"s":"III:12","e":"OS","t":120,"v":-9},{"s":"III:12","e":"OS","t":150,"v":-5},{"s":"III:12","e":"OS","t":185,"v":0},
{"s":"III:11","e":"OD","t":0,"v":-8},{"s":"III:11","e":"OD","t":15,"v":-6},{"s":"III:11","e":"OD","t":30,"v":-10},{"s":"III:11","e":"OD","t":45,"v":-6},{"s":"III:11","e":"OD","t":60,"v":-8},{"s":"III:11","e":"OD","t":75,"v":-4},{"s":"III:11","e":"OD","t":90,"v":-7},{"s":"III:11","e":"OD","t":105,"v":-2},{"s":"III:11","e":"OD","t":120,"v":-5},{"s":"III:11","e":"OD","t":135,"v":2},{"s":"III:11","e":"OD","t":150,"v":-3},{"s":"III:11","e":"OD","t":165,"v":6},{"s":"III:11","e":"OD","t":175,"v":0},{"s":"III:11","e":"OD","t":186,"v":8},
{"s":"III:11","e":"OS","t":0,"v":-4},{"s":"III:11","e":"OS","t":12,"v":2},{"s":"III:11","e":"OS","t":25,"v":-4},{"s":"III:11","e":"OS","t":38,"v":4},{"s":"III:11","e":"OS","t":50,"v":-4},{"s":"III:11","e":"OS","t":62,"v":4},{"s":"III:11","e":"OS","t":75,"v":-3},{"s":"III:11","e":"OS","t":88,"v":4},{"s":"III:11","e":"OS","t":100,"v":-3},{"s":"III:11","e":"OS","t":112,"v":3},{"s":"III:11","e":"OS","t":125,"v":-4},{"s":"III:11","e":"OS","t":138,"v":3},{"s":"III:11","e":"OS","t":150,"v":-3},{"s":"III:11","e":"OS","t":162,"v":2},{"s":"III:11","e":"OS","t":175,"v":-4},{"s":"III:11","e":"OS","t":185,"v":0},
{"s":"IV:4","e":"OD","t":1,"v":44},{"s":"IV:4","e":"OD","t":20,"v":-26},{"s":"IV:4","e":"OD","t":34,"v":44},{"s":"IV:4","e":"OD","t":47,"v":-26},{"s":"IV:4","e":"OD","t":62,"v":44},{"s":"IV:4","e":"OD","t":76,"v":-26},{"s":"IV:4","e":"OD","t":90,"v":44},{"s":"IV:4","e":"OD","t":105,"v":-26},{"s":"IV:4","e":"OD","t":120,"v":44},{"s":"IV:4","e":"OD","t":134,"v":-26},{"s":"IV:4","e":"OD","t":148,"v":44},{"s":"IV:4","e":"OD","t":162,"v":-26},{"s":"IV:4","e":"OD","t":178,"v":44},
{"s":"IV:4","e":"OS","t":2,"v":44},{"s":"IV:4","e":"OS","t":18,"v":-16},{"s":"IV:4","e":"OS","t":33,"v":44},{"s":"IV:4","e":"OS","t":48,"v":-16},{"s":"IV:4","e":"OS","t":62,"v":44},{"s":"IV:4","e":"OS","t":77,"v":-16},{"s":"IV:4","e":"OS","t":92,"v":44},{"s":"IV:4","e":"OS","t":106,"v":-16},{"s":"IV:4","e":"OS","t":120,"v":44},{"s":"IV:4","e":"OS","t":135,"v":-16},{"s":"IV:4","e":"OS","t":150,"v":44},{"s":"IV:4","e":"OS","t":162,"v":-16},{"s":"IV:4","e":"OS","t":177,"v":44},
{"s":"III:8","e":"OD","t":0,"v":62},{"s":"III:8","e":"OD","t":20,"v":60},{"s":"III:8","e":"OD","t":40,"v":58},{"s":"III:8","e":"OD","t":60,"v":60},{"s":"III:8","e":"OD","t":80,"v":58},{"s":"III:8","e":"OD","t":95,"v":62},{"s":"III:8","e":"OD","t":105,"v":56},{"s":"III:8","e":"OD","t":115,"v":64},{"s":"III:8","e":"OD","t":125,"v":56},{"s":"III:8","e":"OD","t":135,"v":62},{"s":"III:8","e":"OD","t":145,"v":58},{"s":"III:8","e":"OD","t":160,"v":64},{"s":"III:8","e":"OD","t":175,"v":60},{"s":"III:8","e":"OD","t":187,"v":66},
{"s":"III:8","e":"OS","t":0,"v":62},{"s":"III:8","e":"OS","t":10,"v":52},{"s":"III:8","e":"OS","t":22,"v":68},{"s":"III:8","e":"OS","t":35,"v":52},{"s":"III:8","e":"OS","t":48,"v":68},{"s":"III:8","e":"OS","t":60,"v":52},{"s":"III:8","e":"OS","t":73,"v":68},{"s":"III:8","e":"OS","t":86,"v":52},{"s":"III:8","e":"OS","t":99,"v":68},{"s":"III:8","e":"OS","t":112,"v":52},{"s":"III:8","e":"OS","t":125,"v":68},{"s":"III:8","e":"OS","t":138,"v":52},{"s":"III:8","e":"OS","t":151,"v":68},{"s":"III:8","e":"OS","t":164,"v":52},{"s":"III:8","e":"OS","t":177,"v":66},{"s":"III:8","e":"OS","t":188,"v":60},
{"s":"III:3","e":"OD","t":0,"v":51},{"s":"III:3","e":"OD","t":7,"v":56},{"s":"III:3","e":"OD","t":21,"v":30},{"s":"III:3","e":"OD","t":35,"v":56},{"s":"III:3","e":"OD","t":49,"v":30},{"s":"III:3","e":"OD","t":62,"v":56},{"s":"III:3","e":"OD","t":76,"v":28},{"s":"III:3","e":"OD","t":90,"v":54},{"s":"III:3","e":"OD","t":104,"v":26},{"s":"III:3","e":"OD","t":117,"v":52},{"s":"III:3","e":"OD","t":131,"v":24},{"s":"III:3","e":"OD","t":145,"v":48},{"s":"III:3","e":"OD","t":158,"v":22},{"s":"III:3","e":"OD","t":170,"v":40},{"s":"III:3","e":"OD","t":178,"v":28},
{"s":"III:3","e":"OS","t":0,"v":51},{"s":"III:3","e":"OS","t":20,"v":54},{"s":"III:3","e":"OS","t":40,"v":51},{"s":"III:3","e":"OS","t":60,"v":54},{"s":"III:3","e":"OS","t":80,"v":49},{"s":"III:3","e":"OS","t":100,"v":52},{"s":"III:3","e":"OS","t":120,"v":47},{"s":"III:3","e":"OS","t":140,"v":45},{"s":"III:3","e":"OS","t":160,"v":40},{"s":"III:3","e":"OS","t":177,"v":35},
{"s":"III:2","e":"OD","t":0,"v":60},{"s":"III:2","e":"OD","t":6,"v":66},{"s":"III:2","e":"OD","t":19,"v":50},{"s":"III:2","e":"OD","t":31,"v":66},{"s":"III:2","e":"OD","t":44,"v":50},{"s":"III:2","e":"OD","t":56,"v":66},{"s":"III:2","e":"OD","t":69,"v":50},{"s":"III:2","e":"OD","t":81,"v":66},{"s":"III:2","e":"OD","t":94,"v":50},{"s":"III:2","e":"OD","t":106,"v":66},{"s":"III:2","e":"OD","t":119,"v":50},{"s":"III:2","e":"OD","t":131,"v":66},{"s":"III:2","e":"OD","t":144,"v":50},{"s":"III:2","e":"OD","t":156,"v":66},{"s":"III:2","e":"OD","t":169,"v":50},{"s":"III:2","e":"OD","t":181,"v":66},{"s":"III:2","e":"OD","t":194,"v":50},{"s":"III:2","e":"OD","t":206,"v":66},{"s":"III:2","e":"OD","t":219,"v":50},{"s":"III:2","e":"OD","t":226,"v":55},
{"s":"III:2","e":"OS","t":0,"v":59},{"s":"III:2","e":"OS","t":12,"v":54},{"s":"III:2","e":"OS","t":25,"v":60},{"s":"III:2","e":"OS","t":37,"v":52},{"s":"III:2","e":"OS","t":50,"v":59},{"s":"III:2","e":"OS","t":62,"v":54},{"s":"III:2","e":"OS","t":75,"v":60},{"s":"III:2","e":"OS","t":87,"v":52},{"s":"III:2","e":"OS","t":100,"v":60},{"s":"III:2","e":"OS","t":112,"v":54},{"s":"III:2","e":"OS","t":125,"v":62},{"s":"III:2","e":"OS","t":137,"v":54},{"s":"III:2","e":"OS","t":150,"v":62},{"s":"III:2","e":"OS","t":162,"v":56},{"s":"III:2","e":"OS","t":175,"v":62},{"s":"III:2","e":"OS","t":187,"v":58},{"s":"III:2","e":"OS","t":194,"v":60}]
},
"hconcat":[
{"vconcat":[
 {"width":74,"height":72,"title":{"text":[" "," "]},"data":{"values":[{"label":"Norma\nContrb\nERG"}]},"mark":{"type":"text","lineBreak":"\n","lineHeight":20,"fontSize":16,"dy":-33},
  "encoding":{"text":{"field":"label"},"x":{"datum":0.5,"type":"quantitative","scale":{"domain":[0,1]},"axis":{"orient":"top","values":[0.5],"labelExpr":"'OD'","labelOpacity":0}}}},
 {"data":{"name":"labels"},"facet":{"row":{"field":"s","sort":["IV:12","IV:9","III:12","III:11","IV:4","III:8","III:3","III:2"],"header":{"labels":false,"title":null}}},"spacing":{"row":24.5},"bounds":"flush",
  "spec":{"width":74,"height":44,"mark":{"type":"text","lineBreak":"\n","lineHeight":20,"fontSize":16,"dy":-14.5},"encoding":{"text":{"field":"label"}}}}
 ],"spacing":10,"bounds":"flush"},
{"vconcat":[
 {"width":205,"height":72,
  "title":{"text":[" ","Photopic ERG"],"dx":-7.5},
  "encoding":{"x":{"field":"t","type":"quantitative","scale":{"domain":[-15,497.5],"nice":false,"zero":false},"axis":{"orient":"top","values":[122.5,237.5,350],"labelExpr":"datum.value < 200 ? 'OD' : datum.value < 300 ? '|' : 'OS'"}},"y":{"field":"v","type":"quantitative","scale":{"domain":[-252,252],"nice":false,"zero":false},"axis":null}},
  "layer":[
   {"data":{"name":"normal"},"transform":[{"filter":"datum.g==='P'"}],"mark":{"type":"line","interpolate":"monotone","strokeWidth":1.8}},
   {"data":{"name":"bar"},"transform":[{"filter":"datum.g==='P'"}],"mark":{"type":"line","strokeWidth":1},"encoding":{"order":{"field":"k"}}},
   {"data":{"name":"bar"},"transform":[{"filter":"datum.g==='P' && datum.k===1"}],"mark":{"type":"text","text":"100 mV","align":"right","baseline":"alphabetic","dx":-2,"fontSize":9}},
   {"data":{"name":"bar"},"transform":[{"filter":"datum.g==='P' && datum.k===1"}],"mark":{"type":"text","text":"50 ms","align":"left","baseline":"top","dy":3,"fontSize":9}}
  ]},
 {"data":{"name":"P"},"facet":{"row":{"field":"s","sort":["IV:12","IV:9","III:12","III:11","IV:4","III:8","III:3","III:2"],"header":{"labels":false,"title":null}},"column":{"field":"e","sort":["OD","OS"],"header":{"labels":false,"title":null}}},
  "spacing":{"row":24.5,"column":25},"bounds":"flush",
  "spec":{"width":82,"height":44,"mark":{"type":"line","interpolate":"monotone","strokeWidth":1.3},
   "encoding":{"x":{"field":"t","type":"quantitative","scale":{"domain":[-15,190],"nice":false,"zero":false},"axis":null},"y":{"field":"v","type":"quantitative","scale":{"domain":[-154,154],"nice":false,"zero":false},"axis":null}}}}
 ],"spacing":10,"bounds":"flush","resolve":{"scale":{"x":"independent","y":"independent"}}},
{"vconcat":[
 {"width":194,"height":72,
  "title":{"text":[" ","Rod-Isolated ERG"],"dx":5},
  "encoding":{"x":{"field":"t","type":"quantitative","scale":{"domain":[-22.5,462.5],"nice":false,"zero":false},"axis":{"orient":"top","values":[122.5,242.5,355],"labelExpr":"datum.value < 200 ? 'OD' : datum.value < 300 ? '|' : 'OS'"}},"y":{"field":"v","type":"quantitative","scale":{"domain":[-252,252],"nice":false,"zero":false},"axis":null}},
  "layer":[
   {"data":{"name":"normal"},"transform":[{"filter":"datum.g==='R'"}],"mark":{"type":"line","interpolate":"monotone","strokeWidth":1.8}},
   {"data":{"name":"bar"},"transform":[{"filter":"datum.g==='R'"}],"mark":{"type":"line","strokeWidth":1},"encoding":{"order":{"field":"k"}}},
   {"data":{"name":"bar"},"transform":[{"filter":"datum.g==='R' && datum.k===1"}],"mark":{"type":"text","text":"100 mV","align":"right","baseline":"alphabetic","dx":-2,"fontSize":9}},
   {"data":{"name":"bar"},"transform":[{"filter":"datum.g==='R' && datum.k===1"}],"mark":{"type":"text","text":"50 ms","align":"left","baseline":"top","dy":3,"fontSize":9}}
  ]},
 {"data":{"name":"R"},"facet":{"row":{"field":"s","sort":["IV:12","IV:9","III:12","III:11","IV:4","III:8","III:3","III:2"],"header":{"labels":false,"title":null}},"column":{"field":"e","sort":["OD","OS"],"header":{"labels":false,"title":null}}},
  "spacing":{"row":24.5,"column":16},"bounds":"flush",
  "spec":{"width":85,"height":44,"mark":{"type":"line","interpolate":"monotone","strokeWidth":1.3},
   "encoding":{"x":{"field":"t","type":"quantitative","scale":{"domain":[-22.5,190],"nice":false,"zero":false},"axis":null},"y":{"field":"v","type":"quantitative","scale":{"domain":[-154,154],"nice":false,"zero":false},"axis":null}}}}
 ],"spacing":10,"bounds":"flush","resolve":{"scale":{"x":"independent","y":"independent"}}},
{"vconcat":[
 {"width":208,"height":72,
  "title":{"text":["Maximal Combined","Response ERG"],"dx":-16},
  "encoding":{"x":{"field":"t","type":"quantitative","scale":{"domain":[-27.5,492.5],"nice":false,"zero":false},"axis":{"orient":"top","values":[110,230,330],"labelExpr":"datum.value < 200 ? 'OD' : datum.value < 300 ? '|' : 'OS'"}},"y":{"field":"v","type":"quantitative","scale":{"domain":[-252,252],"nice":false,"zero":false},"axis":null}},
  "layer":[
   {"data":{"name":"normal"},"transform":[{"filter":"datum.g==='M'"}],"mark":{"type":"line","interpolate":"monotone","strokeWidth":1.8}},
   {"data":{"name":"bar"},"transform":[{"filter":"datum.g==='M'"}],"mark":{"type":"line","strokeWidth":1},"encoding":{"order":{"field":"k"}}},
   {"data":{"name":"bar"},"transform":[{"filter":"datum.g==='M' && datum.k===1"}],"mark":{"type":"text","text":"100 mV","align":"right","baseline":"alphabetic","dx":-2,"fontSize":9}},
   {"data":{"name":"bar"},"transform":[{"filter":"datum.g==='M' && datum.k===1"}],"mark":{"type":"text","text":"50 ms","align":"left","baseline":"top","dy":3,"fontSize":9}}
  ]},
 {"data":{"name":"M"},"facet":{"row":{"field":"s","sort":["IV:12","IV:9","III:12","III:11","IV:4","III:8","III:3","III:2"],"header":{"labels":false,"title":null}},"column":{"field":"e","sort":["OD","OS"],"header":{"labels":false,"title":null}}},
  "spacing":{"row":24.5,"column":10},"bounds":"flush",
  "spec":{"width":87,"height":44,"mark":{"type":"line","interpolate":"monotone","strokeWidth":1.3},
   "encoding":{"x":{"field":"t","type":"quantitative","scale":{"domain":[-27.5,190],"nice":false,"zero":false},"axis":null},"y":{"field":"v","type":"quantitative","scale":{"domain":[-154,154],"nice":false,"zero":false},"axis":null}}}}
 ],"spacing":10,"bounds":"flush","resolve":{"scale":{"x":"independent","y":"independent"}}},
{"vconcat":[
 {"width":202,"height":72,
  "title":{"text":[" ","30-Hz Flicker ERG"],"dx":-7},
  "encoding":{"x":{"field":"t","type":"quantitative","scale":{"domain":[-37.5,467.5],"nice":false,"zero":false},"axis":{"orient":"top","values":[62.5,175,290],"labelExpr":"datum.value < 150 ? 'OD' : datum.value < 250 ? '|' : 'OS'"}},"y":{"field":"v","type":"quantitative","scale":{"domain":[-252,252],"nice":false,"zero":false},"axis":null}},
  "layer":[
   {"data":{"name":"normal"},"transform":[{"filter":"datum.g==='F'"}],"mark":{"type":"line","interpolate":"monotone","strokeWidth":1.8}},
   {"data":{"name":"bar"},"transform":[{"filter":"datum.g==='F'"}],"mark":{"type":"line","strokeWidth":1},"encoding":{"order":{"field":"k"}}},
   {"data":{"name":"bar"},"transform":[{"filter":"datum.g==='F' && datum.k===1"}],"mark":{"type":"text","text":"100 mV","align":"right","baseline":"alphabetic","dx":-2,"fontSize":9}},
   {"data":{"name":"bar"},"transform":[{"filter":"datum.g==='F' && datum.k===1"}],"mark":{"type":"text","text":"50 ms","align":"left","baseline":"top","dy":3,"fontSize":9}}
  ]},
 {"data":{"name":"F"},"facet":{"row":{"field":"s","sort":["IV:12","IV:9","III:12","III:11","IV:4","III:8","III:3","III:2"],"header":{"labels":false,"title":null}},"column":{"field":"e","sort":["OD","OS"],"header":{"labels":false,"title":null}}},
  "spacing":{"row":24.5,"column":17},"bounds":"flush",
  "spec":{"width":91,"height":44,"mark":{"type":"line","interpolate":"monotone","strokeWidth":1.3},
   "encoding":{"x":{"field":"t","type":"quantitative","scale":{"domain":[-37.5,190],"nice":false,"zero":false},"axis":null},"y":{"field":"v","type":"quantitative","scale":{"domain":[-154,154],"nice":false,"zero":false},"axis":null}}}}
 ],"spacing":10,"bounds":"flush","resolve":{"scale":{"x":"independent","y":"independent"}}}
],
"spacing":0,"resolve":{"scale":{"x":"independent","y":"independent"}}
}
